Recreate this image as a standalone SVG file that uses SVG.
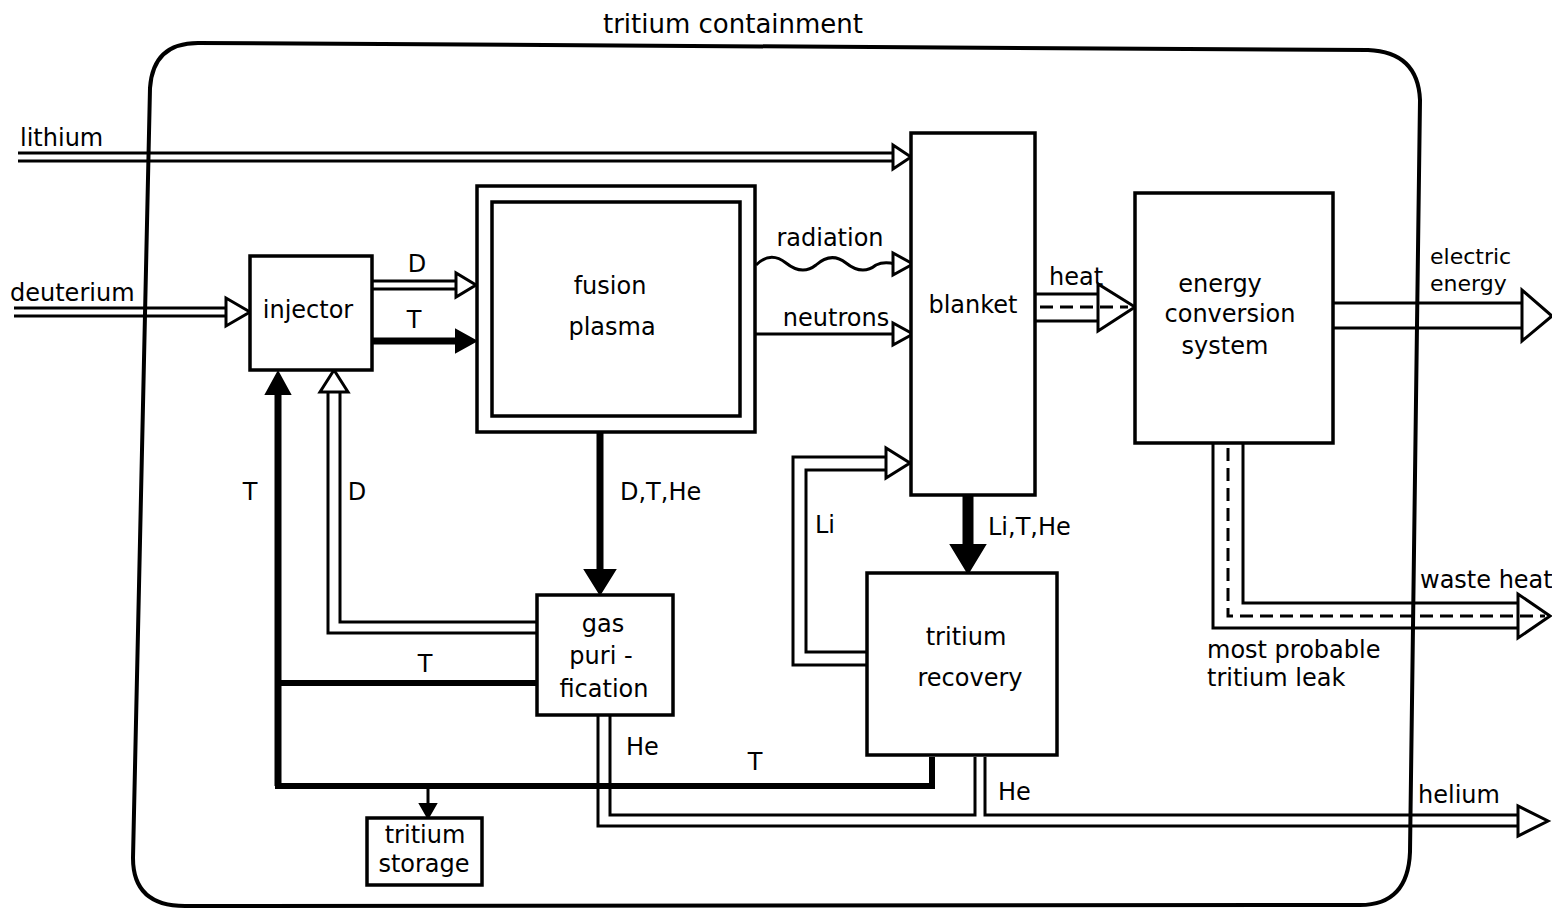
<svg xmlns="http://www.w3.org/2000/svg" xmlns:xlink="http://www.w3.org/1999/xlink" width="1552" height="912" viewBox="0 0 1552 912">
<style>
  text { font-family: "DejaVu Sans", "Liberation Sans", sans-serif; font-size: 24px; fill: #000; }
  .c { text-anchor: middle; }
  .box { fill: #fff; stroke: #000; stroke-width: 3.5; }
  .ln { fill: none; stroke: #000; stroke-width: 3; stroke-linejoin: miter; }
  .thick { fill: none; stroke: #000; stroke-width: 7; }
  .dash { fill: none; stroke: #000; stroke-width: 3; stroke-dasharray: 13 7; }
  .hollow { fill: #fff; stroke: #000; stroke-width: 3; stroke-linejoin: miter; }
  .solid { fill: #000; stroke: #000; stroke-width: 2; }
</style>
<rect width="1552" height="912" fill="#fff"/>

<g id="containment">
  <path d="M150,88 Q153,43 198,43 L1368,50 Q1418,52 1420,100 L1410,852 Q1408,905 1360,905 L185,906 Q133,906 133,858 Z" fill="none" stroke="#000" stroke-width="4"/>
  <text x="733" y="33" class="c" style="font-size:26px">tritium containment</text>
</g>

<g id="connectors">
  <!-- lithium -->
  <path class="ln" d="M18,153 H895 M18,161 H895"/>
  <polygon class="hollow" points="893,145 893,169 911,157"/>
  <!-- deuterium -->
  <path class="ln" d="M14,308 H228 M14,316 H228"/>
  <polygon class="hollow" points="226,298 226,326 250,312"/>
  <!-- injector D -->
  <path class="ln" d="M372,281 H458 M372,289 H458"/>
  <polygon class="hollow" points="456,273 456,297 476,285"/>
  <!-- injector T -->
  <path class="thick" d="M372,341 H460"/>
  <polygon class="solid" points="456,330 456,352 476,341"/>
  <!-- radiation -->
  <path class="ln" d="M756,265 C766,255 776,255 786,263 C796,271 806,273 816,265 C826,256 836,255 846,263 C856,271 866,273 876,265 C882,262 888,262 895,264"/>
  <polygon class="hollow" points="893,253 893,275 913,264"/>
  <!-- neutrons -->
  <path class="ln" d="M756,334 H895"/>
  <polygon class="hollow" points="893,323 893,345 913,334"/>
  <!-- heat -->
  <path class="ln" d="M1035,294 H1100 M1035,321 H1100"/>
  <polygon class="hollow" points="1098,284 1098,331 1135,307"/>
  <path class="dash" d="M1040,307 H1128"/>
  <!-- electric energy -->
  <path class="ln" d="M1333,303 H1524 M1333,328 H1524"/>
  <polygon class="hollow" points="1522,290 1522,341 1552,316"/>
  <!-- waste heat -->
  <path class="ln" d="M1213,443 V628 H1520 M1243,443 V603 H1520"/>
  <polygon class="hollow" points="1518,594 1518,638 1550,616"/>
  <path class="dash" d="M1228,448 V616 H1545"/>
  <!-- D,T,He -->
  <path class="thick" d="M600,433 V578"/>
  <polygon class="solid" points="585,570 615,570 600,594"/>
  <!-- Li,T,He -->
  <path class="thick" style="stroke-width:11" d="M968,496 V552"/>
  <polygon class="solid" points="951,545 985,545 968,573"/>
  <!-- D return -->
  <path class="ln" d="M537,633 H328 V393 M537,622 H340 V393"/>
  <polygon class="hollow" points="320,392 348,392 334,370"/>
  <!-- T return to injector -->
  <path class="thick" d="M278,786 V392"/>
  <polygon class="solid" points="266,394 290,394 278,372"/>
  <path class="thick" style="stroke-width:6" d="M537,683 H278"/>
  <path class="thick" style="stroke-width:6" d="M275,786 H932 V757"/>
  <!-- to tritium storage -->
  <path class="ln" d="M428,786 V812"/>
  <polygon class="solid" points="420,804 436,804 428,818"/>
  <!-- Li return -->
  <path class="ln" d="M867,665 H793 V457 H888 M867,652 H806 V470 H888"/>
  <polygon class="hollow" points="886,448 886,478 910,463"/>
  <!-- helium -->
  <path class="ln" d="M598,715 V826 H1520 M610,715 V815 H975 V757 M985,757 V815 H1520"/>
  <polygon class="hollow" points="1518,806 1518,836 1548,821"/>
  <!-- connector labels -->
  <text x="20" y="146">lithium</text>
  <text x="10" y="301">deuterium</text>
  <text x="417" y="272" class="c">D</text>
  <text x="414" y="328" class="c">T</text>
  <text x="830" y="246" class="c">radiation</text>
  <text x="836" y="326" class="c">neutrons</text>
  <text x="1076" y="285" class="c">heat</text>
  <text x="1430" y="264" style="font-size:22px">electric</text>
  <text x="1430" y="291" style="font-size:22px">energy</text>
  <text x="1420" y="588">waste heat</text>
  <text x="1207" y="658">most probable</text>
  <text x="1207" y="686">tritium leak</text>
  <text x="1418" y="803">helium</text>
  <text x="250" y="500" class="c">T</text>
  <text x="357" y="500" class="c">D</text>
  <text x="620" y="500">D,T,He</text>
  <text x="815" y="533">Li</text>
  <text x="988" y="535">Li,T,He</text>
  <text x="425" y="672" class="c">T</text>
  <text x="626" y="755">He</text>
  <text x="755" y="770" class="c">T</text>
  <text x="998" y="800">He</text>
</g>

<g id="injector">
  <rect class="box" x="250" y="256" width="122" height="114"/>
  <text x="308" y="318" class="c">injector</text>
</g>
<g id="fusion-plasma">
  <rect class="box" x="477" y="186" width="278" height="246"/>
  <rect class="box" x="492" y="202" width="248" height="214"/>
  <text x="610" y="294" class="c">fusion</text>
  <text x="612" y="335" class="c">plasma</text>
</g>
<g id="blanket">
  <rect class="box" x="911" y="133" width="124" height="362"/>
  <text x="973" y="313" class="c">blanket</text>
</g>
<g id="energy-conversion-system">
  <rect class="box" x="1135" y="193" width="198" height="250"/>
  <text x="1220" y="292" class="c">energy</text>
  <text x="1230" y="322" class="c">conversion</text>
  <text x="1225" y="354" class="c">system</text>
</g>
<g id="gas-purification">
  <rect class="box" x="537" y="595" width="136" height="120"/>
  <text x="603" y="632" class="c">gas</text>
  <text x="601" y="664" class="c">puri -</text>
  <text x="604" y="697" class="c">fication</text>
</g>
<g id="tritium-recovery">
  <rect class="box" x="867" y="573" width="190" height="182"/>
  <text x="966" y="645" class="c">tritium</text>
  <text x="970" y="686" class="c">recovery</text>
</g>
<g id="tritium-storage">
  <rect class="box" x="367" y="818" width="115" height="67"/>
  <text x="425" y="843" class="c">tritium</text>
  <text x="424" y="872" class="c">storage</text>
</g>
</svg>
